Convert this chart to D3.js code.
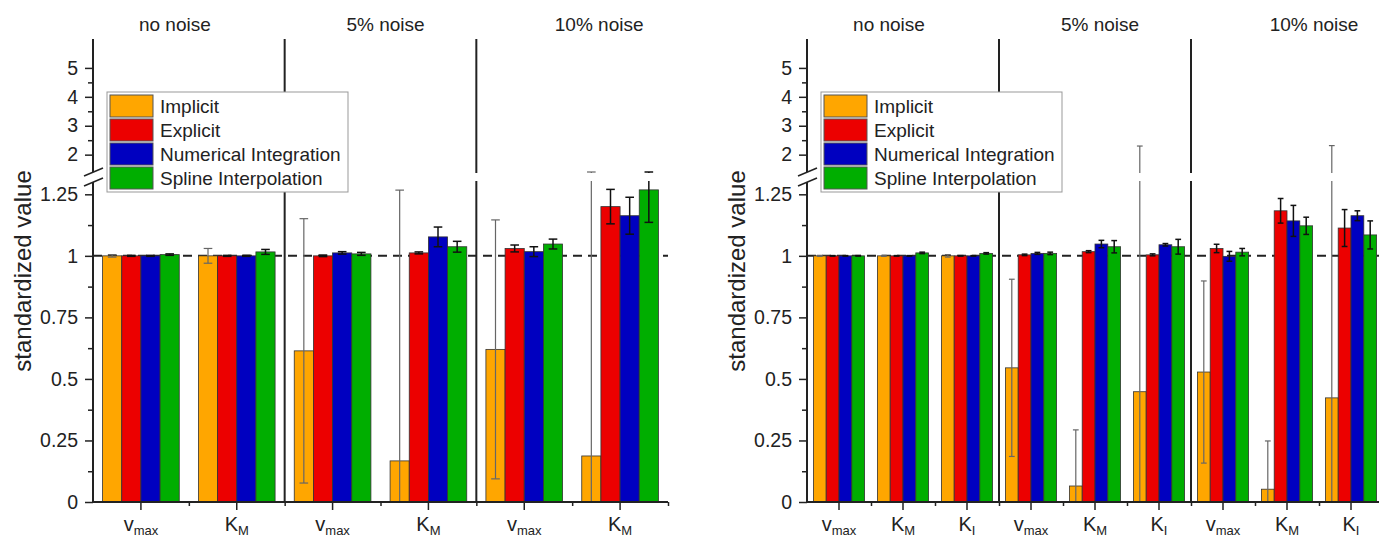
<!DOCTYPE html>
<html>
<head>
<meta charset="utf-8">
<script src="https://cdn.jsdelivr.net/npm/d3@7"></script>
<style>
    body { margin: 0; background: #fff; }
    svg { display: block; font-family: "Liberation Sans", Arial, sans-serif; }
</style>
</head>
<body>
<div id="chart"></div>
<script>
// ---- data ----
const methods = ["Implicit", "Explicit", "Numerical Integration", "Spline Interpolation"];
const noiseLevels = ["no noise", "5% noise", "10% noise"];
// tick labels: [base, subscript]
const paramsLeft = [["v", "max"], ["K", "M"]];
const paramsRight = [["v", "max"], ["K", "M"], ["K", "I"]];

// left panel: categories = noise level x (vmax, KM)
const leftImplicit = [1.0, 1.0, 0.614, 0.167, 0.62, 0.187];
const leftExplicit = [1.0, 1.0, 1.0, 1.012, 1.03, 1.2];
const leftNumerical = [1.0, 1.0, 1.012, 1.077, 1.017, 1.163];
const leftSpline = [1.005, 1.016, 1.008, 1.037, 1.048, 1.268];
const leftImplicitErr = [0.005, 0.03, 0.537, 1.10, 0.526, 1.213];
const leftExplicitErr = [0.002, 0.002, 0.003, 0.004, 0.014, 0.07];
const leftNumericalErr = [0.002, 0.002, 0.005, 0.04, 0.02, 0.075];
const leftSplineErr = [0.003, 0.01, 0.006, 0.022, 0.02, 0.132];

// right panel: categories = noise level x (vmax, KM, KI)
const rightImplicit = [1.0, 1.0, 1.0, 0.545, 0.065, 0.448, 0.528, 0.052, 0.423];
const rightExplicit = [1.0, 1.0, 1.0, 1.004, 1.017, 1.004, 1.03, 1.183, 1.113];
const rightNumerical = [1.0, 1.0, 1.0, 1.01, 1.048, 1.045, 0.998, 1.142, 1.163];
const rightSpline = [1.0, 1.012, 1.01, 1.01, 1.037, 1.037, 1.015, 1.122, 1.085];
const rightImplicitErr = [0.002, 0.002, 0.005, 0.36, 0.228, 1.85, 0.37, 0.196, 1.89];
const rightExplicitErr = [0.001, 0.001, 0.001, 0.003, 0.004, 0.004, 0.017, 0.05, 0.075];
const rightNumericalErr = [0.001, 0.001, 0.001, 0.004, 0.015, 0.005, 0.02, 0.063, 0.02];
const rightSplineErr = [0.001, 0.003, 0.003, 0.005, 0.025, 0.03, 0.015, 0.035, 0.057];

const lowerTicks = [0, 0.25, 0.5, 0.75, 1, 1.25];
const lowerMinor = [0.125, 0.375, 0.625, 0.875, 1.125];
const upperTicks = [2, 3, 4, 5];
const upperMinor = [2.5, 3.5, 4.5];
const refValue = 1;

// ---- layout ----
const width = 1379, height = 540;
const colors = ["#ffa600", "#ec0000", "#0000c0", "#00ae00"];
const ink = "#222";
const titleOffsets = [-14, 5, 27];

const svg = d3.select("#chart")
    .append("svg")
    .attr("width", width)
    .attr("height", height);

// broken y axis: lower part 0..1.3, upper part 1.4..6
const yTop = 39, yBottom = 502, yBreakHi = 172, yBreakLo = 182;
const yLow = d3.scaleLinear().domain([0, 1.3]).range([yBottom, yBreakLo]);
const yHigh = d3.scaleLinear().domain([1.4, 6]).range([yBreakHi, yTop]);
const yGap = d3.scaleLinear().domain([1.3, 1.4]).range([yBreakLo, yBreakHi]);
function y(v) {
    if (v <= 1.3) return yLow(v);
    if (v >= 1.4) return yHigh(v);
    return yGap(v);
}

function drawPanel(opts) {
    const { x0, x1, params, values, errors, labelX } = opts;
    const g = svg.append("g");

    const n = noiseLevels.length * params.length;
    const x = d3.scaleBand()
        .domain(d3.range(n))
        .range([x0, x1])
        .paddingInner(0.2)
        .paddingOuter(0.1);
    const xm = d3.scaleBand()
        .domain(d3.range(methods.length))
        .range([0, x.bandwidth()]);
    // category boundaries
    const xb = d3.scaleLinear().domain([0, n]).range([x0, x1]);

    // dashed reference line at 1
    g.append("line")
        .attr("x1", x0).attr("x2", x1)
        .attr("y1", y(refValue)).attr("y2", y(refValue))
        .attr("stroke", ink)
        .attr("stroke-width", 2)
        .attr("stroke-dasharray", "9,6");

    // group separators
    g.append("g").selectAll("line")
        .data(d3.range(1, noiseLevels.length))
        .join("line")
        .attr("x1", d => xb(d * params.length))
        .attr("x2", d => xb(d * params.length))
        .attr("y1", yBottom)
        .attr("y2", yTop)
        .attr("stroke", ink)
        .attr("stroke-width", 2);

    // bars
    const rows = [];
    methods.forEach((m, mi) => {
        values[mi].forEach((v, ci) => rows.push({ mi, ci, v, e: errors[mi][ci] }));
    });

    g.append("g").selectAll("rect")
        .data(rows)
        .join("rect")
        .attr("x", d => x(d.ci) + xm(d.mi))
        .attr("width", xm.bandwidth())
        .attr("y", d => y(d.v))
        .attr("height", d => y(0) - y(d.v))
        .attr("fill", d => colors[d.mi])
        .attr("stroke", "#333")
        .attr("stroke-width", 0.8);

    // error bars
    const cap = xm.bandwidth() * 0.45;
    const err = g.append("g").selectAll("g")
        .data(rows)
        .join("g")
        .attr("stroke", d => d.mi === 0 ? "#666" : "#111")
        .attr("stroke-width", d => d.mi === 0 ? 1.2 : 1.5);
    const cx = d => x(d.ci) + xm(d.mi) + xm.bandwidth() / 2;
    err.append("line")
        .attr("x1", cx).attr("x2", cx)
        .attr("y1", d => y(Math.max(0, d.v - d.e)))
        .attr("y2", d => y(d.v + d.e));
    err.append("line")
        .attr("x1", d => cx(d) - cap / 2).attr("x2", d => cx(d) + cap / 2)
        .attr("y1", d => y(d.v + d.e)).attr("y2", d => y(d.v + d.e));
    err.filter(d => d.v - d.e > 0).append("line")
        .attr("x1", d => cx(d) - cap / 2).attr("x2", d => cx(d) + cap / 2)
        .attr("y1", d => y(d.v - d.e)).attr("y2", d => y(d.v - d.e));

    // blank out the break gap
    g.append("rect")
        .attr("x", x0 + 1)
        .attr("width", x1 - x0 + 10)
        .attr("y", yBreakHi + 1)
        .attr("height", yBreakLo - yBreakHi - 2)
        .attr("fill", "#fff");

    // y axis (two pieces)
    const axisStyle = sel => {
        sel.select(".domain").remove();
        sel.selectAll("line").attr("stroke", ink).attr("stroke-width", 1.5);
        sel.selectAll("text").attr("font-size", "19.5px").attr("fill", ink);
    };
    g.append("g")
        .attr("transform", `translate(${x0},0)`)
        .call(d3.axisLeft(yLow).tickValues(lowerTicks).tickFormat(d => String(d)).tickSize(8).tickPadding(7))
        .call(axisStyle);
    g.append("g")
        .attr("transform", `translate(${x0},0)`)
        .call(d3.axisLeft(yHigh).tickValues(upperTicks).tickFormat(d => String(d)).tickSize(8).tickPadding(7))
        .call(axisStyle);
    g.append("g")
        .attr("transform", `translate(${x0},0)`)
        .call(d3.axisLeft(yLow).tickValues(lowerMinor).tickFormat("").tickSize(5))
        .call(axisStyle);
    g.append("g")
        .attr("transform", `translate(${x0},0)`)
        .call(d3.axisLeft(yHigh).tickValues(upperMinor).tickFormat("").tickSize(5))
        .call(axisStyle);

    g.append("line")
        .attr("x1", x0).attr("x2", x0)
        .attr("y1", yBottom).attr("y2", yBreakLo)
        .attr("stroke", ink).attr("stroke-width", 2);
    g.append("line")
        .attr("x1", x0).attr("x2", x0)
        .attr("y1", yBreakHi).attr("y2", yTop)
        .attr("stroke", ink).attr("stroke-width", 2);

    // break marks "//"
    g.append("g").selectAll("line")
        .data([yBreakHi, yBreakLo])
        .join("line")
        .attr("x1", x0 - 9).attr("y1", d => d + 4)
        .attr("x2", x0 + 10).attr("y2", d => d - 4)
        .attr("stroke", ink)
        .attr("stroke-width", 1.6);

    // x axis
    g.append("line")
        .attr("x1", x0).attr("x2", x1)
        .attr("y1", yBottom).attr("y2", yBottom)
        .attr("stroke", ink).attr("stroke-width", 2);
    g.append("g")
        .attr("transform", `translate(0,${yBottom})`)
        .call(d3.axisBottom(x).tickFormat("").tickSize(8))
        .call(axisStyle);
    g.append("g")
        .attr("transform", `translate(0,${yBottom})`)
        .call(d3.axisBottom(xb).tickValues(d3.range(1, n + 1)).tickFormat("").tickSize(4))
        .call(axisStyle);

    const labels = g.append("g").selectAll("text")
        .data(d3.range(n))
        .join("text")
        .attr("x", d => x(d) + x.bandwidth() / 2)
        .attr("y", 531)
        .attr("text-anchor", "middle")
        .attr("fill", ink);
    labels.append("tspan")
        .attr("font-size", "20px")
        .text(d => params[d % params.length][0]);
    labels.append("tspan")
        .attr("font-size", "13px")
        .attr("dy", 4)
        .text(d => params[d % params.length][1]);

    // noise titles
    g.append("g").selectAll("text")
        .data(noiseLevels)
        .join("text")
        .attr("x", (d, i) => (xb(i * params.length) + xb((i + 1) * params.length)) / 2 + titleOffsets[i])
        .attr("y", 31)
        .attr("text-anchor", "middle")
        .attr("font-size", "19px")
        .attr("fill", ink)
        .text(d => d);

    // y label
    g.append("text")
        .attr("transform", `translate(${labelX},271) rotate(-90)`)
        .attr("text-anchor", "middle")
        .attr("dy", "0.35em")
        .attr("font-size", "24px")
        .attr("fill", ink)
        .text("standardized value");

    // legend
    const legend = g.append("g")
        .attr("transform", `translate(${x0 + 14},92)`);
    legend.append("rect")
        .attr("width", 241)
        .attr("height", 100)
        .attr("fill", "#fff")
        .attr("stroke", "#999")
        .attr("stroke-width", 1);
    const item = legend.selectAll("g")
        .data(methods)
        .join("g")
        .attr("transform", (d, i) => `translate(3,${3 + i * 24})`);
    item.append("rect")
        .attr("width", 43)
        .attr("height", 22)
        .attr("fill", (d, i) => colors[i])
        .attr("stroke", "#555")
        .attr("stroke-width", 1);
    item.append("text")
        .attr("x", 50)
        .attr("y", 18)
        .attr("font-size", "19px")
        .attr("fill", ink)
        .text(d => d);
}

drawPanel({
    x0: 93, x1: 668, labelX: 23,
    params: paramsLeft,
    values: [leftImplicit, leftExplicit, leftNumerical, leftSpline],
    errors: [leftImplicitErr, leftExplicitErr, leftNumericalErr, leftSplineErr]
});
drawPanel({
    x0: 807, x1: 1383, labelX: 737,
    params: paramsRight,
    values: [rightImplicit, rightExplicit, rightNumerical, rightSpline],
    errors: [rightImplicitErr, rightExplicitErr, rightNumericalErr, rightSplineErr]
});
</script>
</body>
</html>
